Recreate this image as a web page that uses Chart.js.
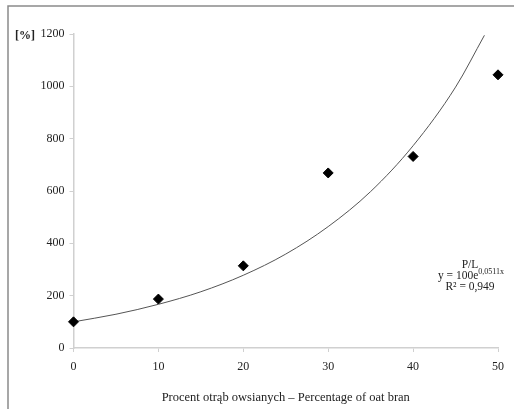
<!DOCTYPE html>
<html>
<head>
<meta charset="utf-8">
<script src="https://cdn.jsdelivr.net/npm/chart.js@4/dist/chart.umd.min.js"></script>
<style>
  html, body { margin: 0; padding: 0; background: #fff; }
  #wrap { width: 514px; height: 409px; }
</style>
</head>
<body>
<div id="wrap"><canvas id="ratioChart" width="514" height="409"></canvas></div>
<script>
/* measured points: oat bran share vs P/L ratio */
const branPercent = [0, 10, 20, 30, 40, 50];
const ratioValues = [100, 187, 314, 669, 732, 1044];

/* exponential trend line */
const trendX = [0, 5, 10, 15, 20, 25, 30, 35, 40, 45, 48.4];
const trendY = [100, 129, 167, 215, 278, 359, 464, 598, 773, 997, 1195];

const yTicks = [0, 200, 400, 600, 800, 1000, 1200];
const xTicks = [0, 10, 20, 30, 40, 50];

const FONT = "'Liberation Serif', 'DejaVu Serif', serif";

// frame, unit label and trend equation
const extras = {
    id: "extras",
    beforeDraw(chart) {
        const c = chart.ctx;
        c.save();
        c.strokeStyle = "#8a8a8a";
        c.lineWidth = 1.5;
        c.beginPath();
        c.moveTo(8, 409);
        c.lineTo(8, 6);
        c.lineTo(514, 6);
        c.stroke();
        c.restore();
    },
    afterDraw(chart) {
        const c = chart.ctx;
        c.save();
        c.fillStyle = "#222";
        c.textBaseline = "middle";
        c.font = "bold 12px " + FONT;
        c.textAlign = "left";
        c.fillText("[%]", 15, 36);

        c.font = "11.5px " + FONT;
        c.textAlign = "center";
        c.fillText("P/L", 470, 265);

        const base = "y = 100e";
        const sup = "0,0511x";
        c.font = "11.5px " + FONT;
        const w1 = c.measureText(base).width;
        c.font = "8px " + FONT;
        const w2 = c.measureText(sup).width;
        let x0 = 471 - (w1 + w2) / 2;
        c.textAlign = "left";
        c.font = "11.5px " + FONT;
        c.fillText(base, x0, 276);
        c.font = "8px " + FONT;
        c.fillText(sup, x0 + w1, 272);

        c.font = "11.5px " + FONT;
        c.textAlign = "center";
        c.fillText("R\u00b2 = 0,949", 470, 287);
        c.restore();
    }
};

document.addEventListener("DOMContentLoaded", function () {

    const ctx = document.getElementById("ratioChart");

    new Chart(ctx, {
        type: "scatter",
        data: {
            datasets: [
                {
                    label: "P/L",
                    data: branPercent.map((x, i) => ({ x: x, y: ratioValues[i] })),
                    pointStyle: "rectRot",
                    pointRadius: 5,
                    backgroundColor: "#000",
                    borderColor: "#000",
                    clip: false,
                    order: 1
                },
                {
                    label: "trend",
                    data: trendX.map((x, i) => ({ x: x, y: trendY[i] })),
                    showLine: true,
                    pointRadius: 0,
                    borderColor: "#555",
                    borderWidth: 1,
                    cubicInterpolationMode: "monotone",
                    order: 2
                }
            ]
        },
        options: {
            responsive: false,
            animation: false,
            layout: { padding: { top: 34, right: 16, left: 0, bottom: 0 } },
            scales: {
                x: {
                    type: "linear",
                    min: 0,
                    max: 50,
                    afterBuildTicks: s => { s.ticks = xTicks.map(v => ({ value: v })); },
                    afterFit: s => { s.height = 61; },
                    border: { color: "#d0d0d0", width: 1.5 },
                    grid: { drawOnChartArea: false, color: "#d0d0d0", tickLength: 4 },
                    ticks: {
                        color: "#222",
                        font: { family: FONT, size: 12 },
                        padding: 8,
                        callback: v => String(v)
                    },
                    title: {
                        display: true,
                        text: "Procent otrąb owsianych \u2013 Percentage of oat bran",
                        color: "#222",
                        font: { family: FONT, size: 12.5 },
                        padding: { top: 4 }
                    }
                },
                y: {
                    min: 0,
                    max: 1200,
                    afterBuildTicks: s => { s.ticks = yTicks.map(v => ({ value: v })); },
                    afterFit: s => { s.width = 73.5; },
                    border: { color: "#d0d0d0", width: 1.5 },
                    grid: { drawOnChartArea: false, color: "#d0d0d0", tickLength: 4 },
                    ticks: {
                        color: "#222",
                        font: { family: FONT, size: 12 },
                        padding: 5,
                        callback: v => String(v)
                    }
                }
            },
            plugins: {
                legend: { display: false },
                tooltip: { enabled: false }
            }
        },
        plugins: [extras]
    });

});
</script>
</body>
</html>
